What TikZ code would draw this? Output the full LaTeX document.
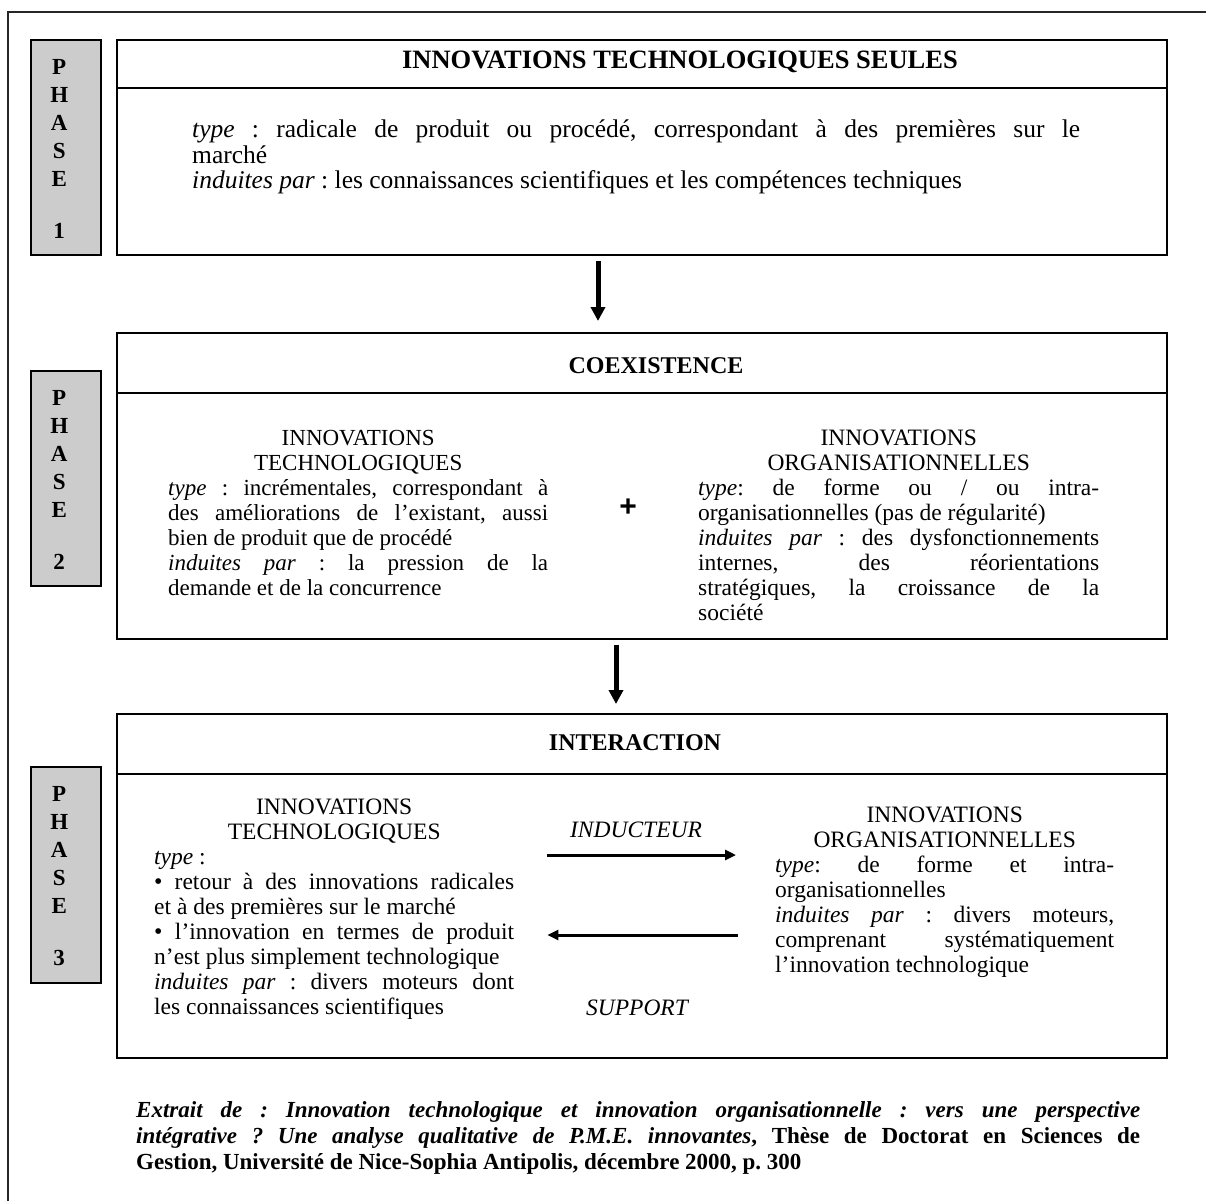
\documentclass[tikz,border=0pt]{standalone}
\usepackage{fontspec}
\setmainfont{Liberation Serif}
\newfontfamily\plusfont{Liberation Sans}
\usetikzlibrary{arrows.meta}
\frenchspacing
\begin{document}
\frenchspacing
\begin{tikzpicture}[x=1pt,y=-1pt,
  frameline/.style={line width=1.2pt, draw=black!85},
  phasebox/.style={draw, line width=1.6pt, fill=black!20, minimum width=70pt, inner sep=0pt, anchor=north west},
  mainbox/.style={draw, line width=1.6pt, minimum width=1050pt, inner sep=0pt, anchor=north west},
  sepline/.style={line width=1.6pt},
  phasetext/.style={font=\bfseries\fontsize{23}{28}\selectfont, text width=70pt, align=center, inner sep=0pt, anchor=base west},
  title/.style={font=\bfseries\fontsize{24}{25}\selectfont, inner sep=0pt},
  bodytext/.style={font=\fontsize{23.5}{25}\selectfont\frenchspacing, inner sep=0pt, anchor=base west, align=justify},
  lab/.style={font=\itshape\fontsize{23.5}{25}\selectfont, inner sep=0pt},
  varrow/.style={line width=5pt, -{Triangle[length=14pt,width=14pt]}},
  harrow/.style={line width=3pt, -{Triangle[length=11pt,width=10pt]}}
]
\useasboundingbox (0,0) rectangle (1206,1201);
\fill[white] (0,0) rectangle (1206,1201);
\draw[frameline] (8,1201) -- (8,12) -- (1206,12);

% phase boxes
\node[phasebox, minimum height=215pt] (p1) at (30,39) {};
\node[phasetext] (p1t) at (24,75) {P\\H\\A\\S\\E\\[24pt]1};
\node[phasebox, minimum height=215pt] (p2) at (30,370) {};
\node[phasetext] (p2t) at (24,405) {P\\H\\A\\S\\E\\[24pt]2};
\node[phasebox, minimum height=216pt] (p3) at (30,766) {};
\node[phasetext] (p3t) at (24,801) {P\\H\\A\\S\\E\\[24pt]3};

% main boxes
\node[mainbox, minimum height=215pt] (box1) at (116,39) {};
\node[mainbox, minimum height=306pt] (box2) at (116,332) {};
\node[mainbox, minimum height=344pt] (box3) at (116,713) {};
\coordinate (h1) at (0,88);
\coordinate (h2) at (0,393);
\coordinate (h3) at (0,774);
\draw[sepline] (box1.west |- h1) -- (box1.east |- h1);
\draw[sepline] (box2.west |- h2) -- (box2.east |- h2);
\draw[sepline] (box3.west |- h3) -- (box3.east |- h3);

% titles
\node[title, font=\bfseries\fontsize{26.5}{25}\selectfont] (t1) at (680,62) {INNOVATIONS TECHNOLOGIQUES SEULES};
\node[title] (t2) at (656,366) {COEXISTENCE};
\node[title] (t3) at (635,743) {INTERACTION};

% phase 1 text
\node[bodytext, text width=888pt, font=\fontsize{25.5}{25.5}\selectfont\frenchspacing] (b1t) at (192,138) {\textit{type} : radicale de produit ou procédé, correspondant à des premières sur le\linebreak marché\\ \textit{induites par} : les connaissances scientifiques et les compétences techniques};

% phase 2 text
\node[bodytext, text width=380pt, font=\fontsize{23}{25}\selectfont\frenchspacing] (b2l) at (168,445) {{\centering INNOVATIONS\\TECHNOLOGIQUES\par}\textit{type} : incrémentales, correspondant à\linebreak des améliorations de l’existant, aussi\linebreak bien de produit que de procédé\\ \textit{induites par} : la pression de la\linebreak demande et de la concurrence};
\node[font=\plusfont\bfseries\fontsize{30}{30}\selectfont, inner sep=0pt] (plus) at (628,508) {+};
\node[bodytext, text width=401pt] (b2r) at (698,445) {{\centering INNOVATIONS\\ORGANISATIONNELLES\par}\textit{type}: de forme ou / ou intra-\linebreak organisationnelles (pas de régularité)\\ \textit{induites par} : des dysfonctionnements\linebreak internes, des réorientations\linebreak stratégiques, la croissance de la\linebreak société};

% phase 3 text
\node[bodytext, text width=360pt] (b3l) at (154,814) {{\centering INNOVATIONS\\TECHNOLOGIQUES\par}\textit{type} :\\ {\fontsize{24}{25}\selectfont •} retour à des innovations radicales\linebreak et à des premières sur le marché\\ {\fontsize{24}{25}\selectfont •} l’innovation en termes de produit\linebreak n’est plus simplement technologique\\ \textit{induites par} : divers moteurs dont\linebreak les connaissances scientifiques};
\node[bodytext, text width=339pt] (b3r) at (775,822) {{\centering INNOVATIONS\\ORGANISATIONNELLES\par}\textit{type}: de forme et intra-\linebreak organisationnelles\\ \textit{induites par} : divers moteurs,\linebreak comprenant systématiquement\linebreak l’innovation technologique};

\node[lab] (ind) at (636,830) {INDUCTEUR};
\node[lab] (sup) at (637,1008) {SUPPORT};
\coordinate (yi) at (0,855);
\coordinate (ys) at (0,935);
\draw[harrow, shorten <=33pt, shorten >=39pt] (b3l.east |- yi) -- (b3r.west |- yi);
\draw[harrow, shorten <=37pt, shorten >=33pt] (b3r.west |- ys) -- (b3l.east |- ys);

% vertical arrows
\coordinate (a1) at (598,0);
\coordinate (a2) at (616,0);
\draw[varrow, shorten <=5pt, shorten >=11pt] (box1.south -| a1) -- (box2.north -| a1);
\draw[varrow, shorten <=5pt, shorten >=9pt] (box2.south -| a2) -- (box3.north -| a2);

% citation
\node[bodytext, text width=1004pt, font=\bfseries\fontsize{23}{26}\selectfont\frenchspacing] (cit) at (136,1117) {\textit{Extrait de : Innovation technologique et innovation organisationnelle : vers une perspective}\linebreak \textit{intégrative ? Une analyse qualitative de P.M.E. innovantes}, Thèse de Doctorat en Sciences de\linebreak Gestion, Université de Nice-Sophia Antipolis, décembre 2000, p. 300};
\end{tikzpicture}
\end{document}
